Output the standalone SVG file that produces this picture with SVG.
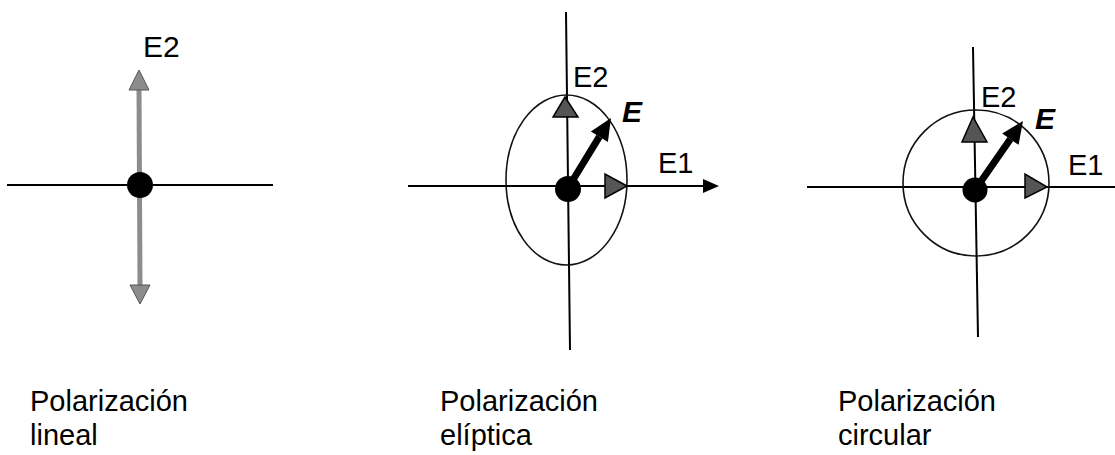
<svg xmlns="http://www.w3.org/2000/svg" width="1115" height="455" viewBox="0 0 1115 455">
<style>
.ax{stroke:#000;stroke-width:2;fill:none}
.thin{stroke:#111;stroke-width:1.6;fill:none}
.lbl{font-family:"Liberation Sans",Arial,sans-serif;font-size:29px;fill:#000}
.big{font-family:"Liberation Sans",Arial,sans-serif;font-size:30px;fill:#000}
.ev{font-family:"Liberation Sans",Arial,sans-serif;font-size:30px;font-weight:bold;font-style:italic;fill:#000}
.tri{fill:#555;stroke:#000;stroke-width:1.5}
.dot{fill:#000}
.grey{stroke:#8c8c8c;stroke-width:5;fill:none}
.greyh{fill:#8c8c8c;stroke:#555;stroke-width:1}
.vec{stroke:#000;stroke-width:7;fill:none}
</style>
<rect width="1115" height="455" fill="#fff"/>
<g id="lineal">
  <line class="ax" x1="7" y1="185" x2="273" y2="185"/>
  <line class="grey" x1="139" y1="88" x2="140" y2="287"/>
  <polygon class="greyh" points="139,70 129,90 149,90"/>
  <polygon class="greyh" points="140,304 130,285 150,285"/>
  <circle class="dot" cx="140" cy="185" r="13"/>
  <text class="big" x="143" y="57">E2</text>
  <text class="lbl" x="30" y="411">Polarización</text>
  <text class="lbl" x="30" y="445">lineal</text>
</g>
<g id="eliptica">
  <line class="ax" x1="566" y1="12" x2="570" y2="350"/>
  <line class="ax" x1="408" y1="186" x2="704" y2="186"/>
  <polygon points="719,186 703,179 703,193" fill="#000"/>
  <ellipse class="thin" cx="566.5" cy="180" rx="60.5" ry="85"/>
  <polygon class="tri" points="565,97 553,117 578,117"/>
  <polygon class="tri" points="627,186 605,174 605,198"/>
  <line class="vec" x1="568" y1="188" x2="599.4" y2="136.7"/>
  <polygon points="611,118 607.9,142 590.9,131.4" fill="#000"/>
  <circle class="dot" cx="568" cy="189" r="13"/>
  <text class="lbl" x="573" y="87">E2</text>
  <text class="ev" x="622" y="122">E</text>
  <text class="lbl" x="658" y="173">E1</text>
  <text class="lbl" x="440" y="411">Polarización</text>
  <text class="lbl" x="440" y="445">elíptica</text>
</g>
<g id="circular">
  <line class="ax" x1="973" y1="47" x2="978" y2="337"/>
  <line class="ax" x1="807" y1="187" x2="1115" y2="187"/>
  <circle class="thin" cx="976" cy="183" r="73"/>
  <polygon class="tri" points="973,117 962,142 987,142"/>
  <polygon class="tri" points="1047,187 1025,174 1025,198"/>
  <line class="vec" x1="975" y1="190" x2="1010.4" y2="139.1"/>
  <polygon points="1023,121 1018.6,144.8 1002.2,133.4" fill="#000"/>
  <circle class="dot" cx="975" cy="190" r="12.5"/>
  <text class="lbl" x="981" y="107">E2</text>
  <text class="ev" x="1035" y="129">E</text>
  <text class="lbl" x="1068" y="175">E1</text>
  <text class="lbl" x="838" y="411">Polarización</text>
  <text class="lbl" x="838" y="445">circular</text>
</g>
</svg>
